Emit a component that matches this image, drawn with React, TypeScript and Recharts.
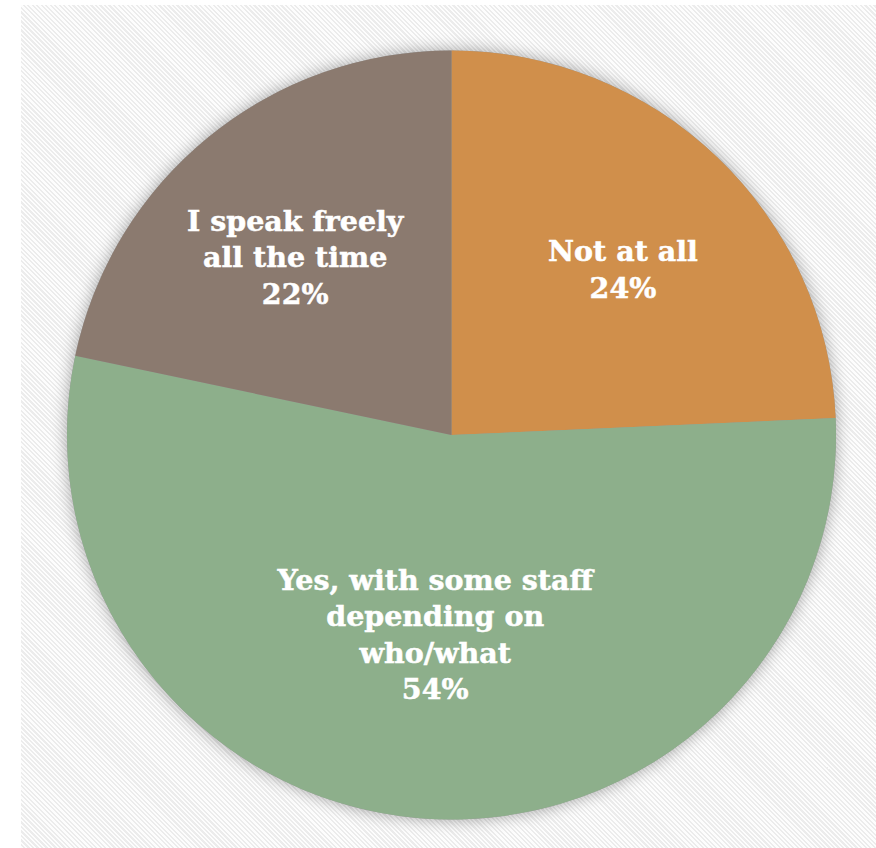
import React from "react";
import { PieChart, Pie, Cell } from "recharts";

const categories = ["Not at all", "Yes, with some staff\ndepending on\nwho/what", "I speak freely\nall the time"];
const shares = [24.3, 54.0, 21.7];
const colors = ["#d08f4b", "#8daf8b", "#8b7a6f"];

const data = categories.map((name, i) => ({ name, value: shares[i] }));

const RAD = Math.PI / 180;
const FONT = "'DejaVu Serif', Georgia, serif";

const renderLabel = (props: any) => {
  const { cx, cy, midAngle, outerRadius, percent, name } = props;
  const big = percent > 0.5;
  const rx = outerRadius * (big ? 0.52 : 0.645);
  const ry = outerRadius * (big ? 0.52 : 0.595);
  const x = cx + rx * Math.cos(-midAngle * RAD);
  const y = cy + ry * Math.sin(-midAngle * RAD);
  const lines = [...String(name).split("\n"), `${Math.round(percent * 100)}%`];
  const L = 36.5;
  const first = y - ((lines.length - 1) * L) / 2 + 10;
  return (
    <text
      x={x}
      y={first}
      textAnchor="middle"
      fill="#ffffff"
      stroke="#ffffff"
      strokeWidth={0.5}
      fontFamily={FONT}
      fontWeight="bold"
      fontSize={28.5}
    >
      {lines.map((ln, i) => (
        <tspan key={i} x={x} y={first + i * L}>
          {ln}
        </tspan>
      ))}
    </text>
  );
};

export default function App() {
  return (
    <div style={{ position: "absolute", left: 0, top: 0, width: 876, height: 848, background: "#ffffff" }}>
      <div
        style={{
          position: "absolute",
          left: 21,
          top: 5,
          width: 855,
          height: 843,
          background: "repeating-linear-gradient(45deg, #fdfdfd 0px, #fdfdfd 1.6px, #ececec 1.6px, #ececec 3.2px)",
        }}
      />
      <div style={{ position: "absolute", left: 0, top: 0 }}>
        <PieChart width={876} height={848} margin={{ top: 0, right: 0, bottom: 0, left: 0 }}>
          <Pie
            data={[{ name: "shadow", value: 1 }]}
            dataKey="value"
            cx={451.5}
            cy={435}
            outerRadius={384.5}
            startAngle={90}
            endAngle={-270}
            stroke="none"
            isAnimationActive={false}
            style={{ filter: "drop-shadow(0px 0px 8px rgba(0,0,0,0.35))" }}
          >
            <Cell fill="#999999" />
          </Pie>
          <Pie
            data={data}
            dataKey="value"
            nameKey="name"
            cx={451.5}
            cy={435}
            outerRadius={384.5}
            startAngle={90}
            endAngle={-270}
            stroke="none"
            labelLine={false}
            label={renderLabel}
            isAnimationActive={false}
          >
            {data.map((d, i) => (
              <Cell key={d.name} fill={colors[i]} />
            ))}
          </Pie>
        </PieChart>
      </div>
    </div>
  );
}
